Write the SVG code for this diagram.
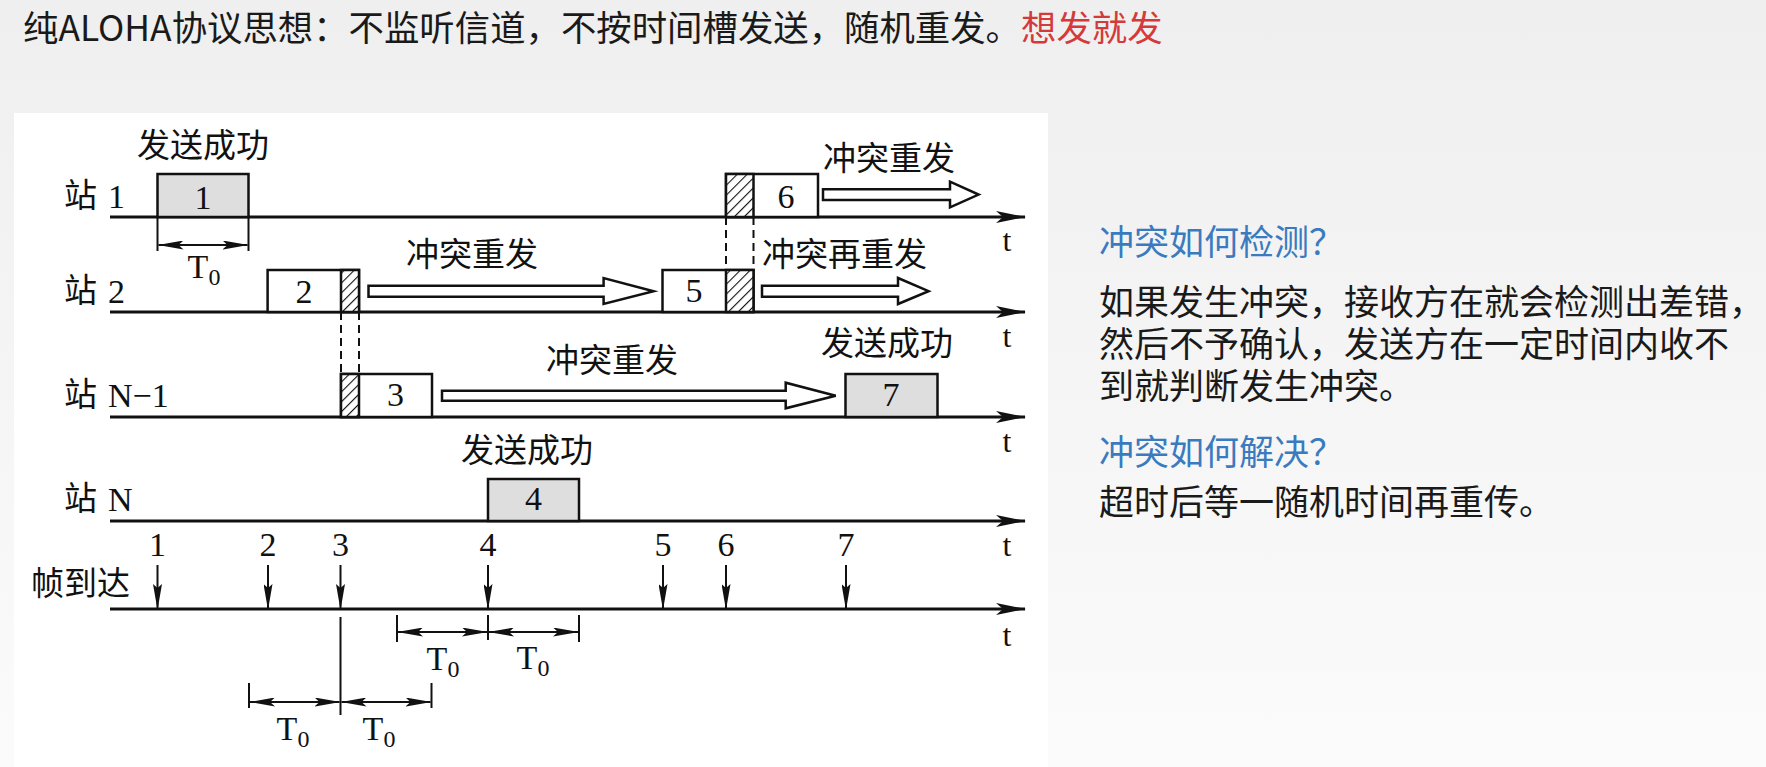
<svg xmlns="http://www.w3.org/2000/svg" width="1766" height="767" viewBox="0 0 1766 767">
<defs>
  <linearGradient id="bg" x1="0" y1="0" x2="0" y2="1">
    <stop offset="0" stop-color="#efefef"/>
    <stop offset="1" stop-color="#fbfbfb"/>
  </linearGradient>
  <pattern id="hatch" patternUnits="userSpaceOnUse" width="7" height="7" patternTransform="rotate(45)">
    <rect width="7" height="7" fill="#fff"/>
    <line x1="0" y1="0" x2="0" y2="7" stroke="#111" stroke-width="2.2"/>
  </pattern>
  <marker id="axisHead" viewBox="0 0 30 12" refX="29" refY="6" markerWidth="30" markerHeight="12" markerUnits="userSpaceOnUse" orient="auto">
    <path d="M0,0 L30,6 L0,12 L7,6 Z" fill="#111"/>
  </marker>
  <marker id="dimHead" viewBox="0 0 26 9" refX="25" refY="4.5" markerWidth="26" markerHeight="9" markerUnits="userSpaceOnUse" orient="auto-start-reverse">
    <path d="M0,0 L26,4.5 L0,9 L5,4.5 Z" fill="#111"/>
  </marker>
  <marker id="downHead" viewBox="0 0 26 9" refX="25" refY="4.5" markerWidth="26" markerHeight="9" markerUnits="userSpaceOnUse" orient="auto">
    <path d="M0,0 L26,4.5 L0,9 L4,4.5 Z" fill="#111"/>
  </marker>
</defs>
<style>
  .cjk { font-family: "Noto Sans CJK SC", sans-serif; fill: #1a1a1a; }
  .lbl { font-family: "Noto Sans CJK SC", sans-serif; font-size: 33px; fill: #111; }
  .num { font-family: "Liberation Serif", serif; font-size: 34px; fill: #111; }
  .tl { font-family: "Liberation Serif", serif; font-size: 32px; fill: #111; text-anchor: middle; }
  .axis { stroke: #111; stroke-width: 3; fill: none; marker-end: url(#axisHead); }
  .box { stroke: #111; stroke-width: 2.5; fill: #fff; }
  .gray { fill: #dedede; }
  .hat { fill: url(#hatch); stroke: #111; stroke-width: 2.5; }
  .dash { stroke: #111; stroke-width: 2; stroke-dasharray: 8 5; fill: none; }
  .dim { stroke: #111; stroke-width: 2; fill: none; marker-start: url(#dimHead); marker-end: url(#dimHead); }
  .tick { stroke: #111; stroke-width: 2; }
  .down { stroke: #111; stroke-width: 2; marker-end: url(#downHead); }
  .hollow { fill: #fff; stroke: #111; stroke-width: 2.5; stroke-linejoin: miter; }
  .blue { font-family: "Noto Sans CJK SC", sans-serif; font-size: 35px; fill: #3a7bbf; }
  .body { font-family: "Noto Sans CJK SC", sans-serif; font-size: 35px; fill: #1a1a1a; }
</style>

<rect x="0" y="0" width="1766" height="767" fill="url(#bg)"/>
<rect x="14" y="113" width="1034" height="654" fill="#fff"/>

<g id="title">
  <text class="cjk" x="23" y="41" font-size="35.4">纯ALOHA协议思想：不监听信道，不按时间槽发送，随机重发。<tspan fill="#d43a3a">想发就发</tspan></text>
</g>

<!-- station labels -->
<g id="station-labels">
  <text class="lbl" x="64" y="207">站</text><text class="num" x="108" y="208">1</text>
  <text class="lbl" x="64" y="302">站</text><text class="num" x="108" y="303">2</text>
  <text class="lbl" x="64" y="406">站</text><text class="num" x="108" y="407">N−1</text>
  <text class="lbl" x="64" y="510">站</text><text class="num" x="108" y="511">N</text>
  <text class="lbl" x="31" y="595">帧到达</text>
</g>

<!-- axes and connectors -->
<g id="connectors">
  <line class="axis" x1="110" y1="217" x2="1025" y2="217"/>
  <line class="axis" x1="110" y1="312" x2="1025" y2="312"/>
  <line class="axis" x1="110" y1="417" x2="1025" y2="417"/>
  <line class="axis" x1="110" y1="521" x2="1025" y2="521"/>
  <line class="axis" x1="110" y1="609" x2="1025" y2="609"/>

  <!-- dashed collision guides -->
  <line class="dash" x1="341" y1="312" x2="341" y2="374"/>
  <line class="dash" x1="359" y1="312" x2="359" y2="374"/>
  <line class="dash" x1="726" y1="217" x2="726" y2="270"/>
  <line class="dash" x1="753.5" y1="217" x2="753.5" y2="270"/>

  <!-- hollow retransmit arrows -->
  <path class="hollow" d="M823,189.3 L950,189.3 L950,181.7 L978.6,194.6 L950,207.3 L950,200 L823,200 Z"/>
  <path class="hollow" d="M368.5,285.7 L603.6,285.7 L603.6,278 L653.6,291.2 L603.6,304 L603.6,296.7 L368.5,296.7 Z"/>
  <path class="hollow" d="M762,285.7 L898,285.7 L898,278 L928.6,291.2 L898,304 L898,296.7 L762,296.7 Z"/>
  <path class="hollow" d="M442,390.7 L785.7,390.7 L785.7,382.7 L835.7,395.7 L785.7,408.3 L785.7,400.7 L442,400.7 Z"/>

  <!-- frame arrival arrows -->
  <line class="down" x1="157.5" y1="565" x2="157.5" y2="609"/>
  <line class="down" x1="268" y1="565" x2="268" y2="609"/>
  <line class="down" x1="340.5" y1="565" x2="340.5" y2="609"/>
  <line class="down" x1="488" y1="565" x2="488" y2="609"/>
  <line class="down" x1="663" y1="565" x2="663" y2="609"/>
  <line class="down" x1="726" y1="565" x2="726" y2="609"/>
  <line class="down" x1="846" y1="565" x2="846" y2="609"/>

  <!-- T0 dimension under frame 1 -->
  <line class="tick" x1="157.5" y1="217" x2="157.5" y2="251"/>
  <line class="tick" x1="248.5" y1="217" x2="248.5" y2="251"/>
  <line class="dim" x1="158.5" y1="245" x2="247.5" y2="245"/>

  <!-- vulnerable period dims -->
  <line class="tick" x1="340.5" y1="617" x2="340.5" y2="715"/>
  <line class="tick" x1="249" y1="683" x2="249" y2="708"/>
  <line class="tick" x1="431.5" y1="683" x2="431.5" y2="708"/>
  <line class="dim" x1="250" y1="702" x2="339.5" y2="702"/>
  <line class="dim" x1="341.5" y1="702" x2="430.5" y2="702"/>

  <line class="tick" x1="397" y1="615" x2="397" y2="642"/>
  <line class="tick" x1="488" y1="615" x2="488" y2="640"/>
  <line class="tick" x1="579" y1="615" x2="579" y2="642"/>
  <line class="dim" x1="398" y1="632" x2="487" y2="632"/>
  <line class="dim" x1="489" y1="632" x2="578" y2="632"/>
</g>

<!-- frames -->
<g id="frame1">
  <rect class="box gray" x="157.5" y="174" width="91" height="43" stroke="#111" stroke-width="2.5"/>
  <text class="num" x="203" y="209" text-anchor="middle">1</text>
</g>
<g id="frame2">
  <rect class="box" x="267.6" y="270" width="91.4" height="42"/>
  <rect class="hat" x="341" y="270" width="18" height="42"/>
  <text class="num" x="304" y="303" text-anchor="middle">2</text>
</g>
<g id="frame3">
  <rect class="box" x="341" y="374" width="91" height="43"/>
  <rect class="hat" x="341" y="374" width="18" height="43"/>
  <text class="num" x="395.5" y="406" text-anchor="middle">3</text>
</g>
<g id="frame4">
  <rect class="box gray" x="488" y="479" width="91" height="42" stroke="#111" stroke-width="2.5"/>
  <text class="num" x="533.5" y="510" text-anchor="middle">4</text>
</g>
<g id="frame5">
  <rect class="box" x="662.5" y="270" width="91" height="42"/>
  <rect class="hat" x="726" y="270" width="27.5" height="42"/>
  <text class="num" x="694" y="302" text-anchor="middle">5</text>
</g>
<g id="frame6">
  <rect class="box" x="726" y="174" width="92" height="43"/>
  <rect class="hat" x="726" y="174" width="27.5" height="43"/>
  <text class="num" x="786" y="208" text-anchor="middle">6</text>
</g>
<g id="frame7">
  <rect class="box gray" x="845.5" y="374" width="92" height="43" stroke="#111" stroke-width="2.5"/>
  <text class="num" x="891" y="406" text-anchor="middle">7</text>
</g>

<!-- labels -->
<g id="labels">
  <text class="lbl" x="137" y="157">发送成功</text>
  <text class="lbl" x="823" y="170">冲突重发</text>
  <text class="lbl" x="406" y="266">冲突重发</text>
  <text class="lbl" x="762" y="266">冲突再重发</text>
  <text class="lbl" x="546" y="372">冲突重发</text>
  <text class="lbl" x="821" y="355">发送成功</text>
  <text class="lbl" x="461" y="462">发送成功</text>
</g>

<g id="t-labels">
  <text class="tl" x="1007" y="251">t</text>
  <text class="tl" x="1007" y="347">t</text>
  <text class="tl" x="1007" y="452">t</text>
  <text class="tl" x="1007" y="556">t</text>
  <text class="tl" x="1007" y="646">t</text>
</g>

<g id="arrival-numbers">
  <text class="num" x="157.5" y="556" text-anchor="middle">1</text>
  <text class="num" x="268" y="556" text-anchor="middle">2</text>
  <text class="num" x="340.5" y="556" text-anchor="middle">3</text>
  <text class="num" x="488" y="556" text-anchor="middle">4</text>
  <text class="num" x="663" y="556" text-anchor="middle">5</text>
  <text class="num" x="726" y="556" text-anchor="middle">6</text>
  <text class="num" x="846" y="556" text-anchor="middle">7</text>
</g>

<g id="t0-labels">
  <text class="num" x="204" y="278" text-anchor="middle">T<tspan font-size="24" dy="7">0</tspan></text>
  <text class="num" x="293" y="740" text-anchor="middle">T<tspan font-size="24" dy="7">0</tspan></text>
  <text class="num" x="379" y="740" text-anchor="middle">T<tspan font-size="24" dy="7">0</tspan></text>
  <text class="num" x="443" y="670" text-anchor="middle">T<tspan font-size="24" dy="7">0</tspan></text>
  <text class="num" x="533" y="669" text-anchor="middle">T<tspan font-size="24" dy="7">0</tspan></text>
</g>

<g id="notes">
  <text class="blue" x="1099" y="255">冲突如何检测？</text>
  <text class="body" x="1099" y="315">如果发生冲突，接收方在就会检测出差错，</text>
  <text class="body" x="1099" y="357">然后不予确认，发送方在一定时间内收不</text>
  <text class="body" x="1099" y="399">到就判断发生冲突。</text>
  <text class="blue" x="1099" y="465">冲突如何解决？</text>
  <text class="body" x="1099" y="515">超时后等一随机时间再重传。</text>
</g>
</svg>
